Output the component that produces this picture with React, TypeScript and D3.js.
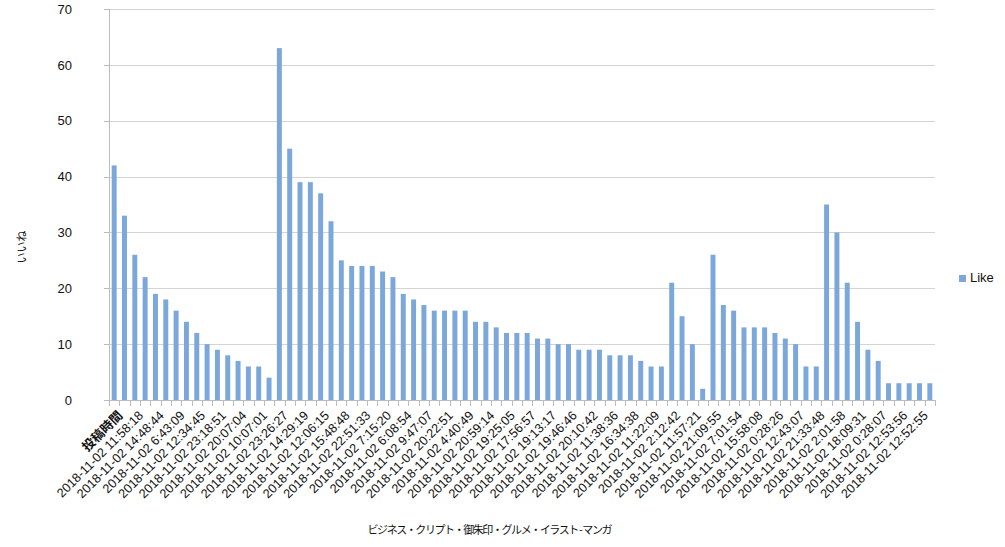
import React from "react";
import * as d3 from "d3";

const likes: number[] = [
  42, 33, 26, 22, 19, 18, 16, 14, 12, 10, 9, 8, 7, 6, 6, 4,
  63, 45, 39, 39, 37, 32, 25, 24, 24, 24, 23, 22, 19, 18, 17, 16, 16, 16, 16, 14, 14, 13,
  12, 12, 12, 11, 11, 10, 10, 9, 9, 9, 8, 8, 8, 7, 6, 6,
  21, 15, 10, 2, 26, 17, 16, 13, 13, 13, 12, 11, 10, 6, 6, 35, 30, 21, 14, 9, 7, 3, 3, 3, 3, 3,
];

// labels shown on every second category
const tickLabels: string[] = [
  "投稿時間",
  "2018-11-02 11:58:18", "2018-11-02 14:48:44", "2018-11-02 6:43:09", "2018-11-02 12:34:45",
  "2018-11-02 23:18:51", "2018-11-02 20:07:04", "2018-11-02 10:07:01", "2018-11-02 23:26:27",
  "2018-11-02 14:29:19", "2018-11-02 12:06:15", "2018-11-02 15:48:48", "2018-11-02 22:51:33",
  "2018-11-02 7:15:20", "2018-11-02 6:08:54", "2018-11-02 9:47:07", "2018-11-02 20:22:51",
  "2018-11-02 4:40:49", "2018-11-02 20:59:14", "2018-11-02 19:25:05", "2018-11-02 17:56:57",
  "2018-11-02 19:13:17", "2018-11-02 19:46:46", "2018-11-02 20:10:42", "2018-11-02 11:38:36",
  "2018-11-02 16:34:38", "2018-11-02 11:22:09", "2018-11-02 2:12:42", "2018-11-02 11:57:21",
  "2018-11-02 21:09:55", "2018-11-02 7:01:54", "2018-11-02 15:58:08", "2018-11-02 0:28:26",
  "2018-11-02 12:43:07", "2018-11-02 21:33:48", "2018-11-02 2:01:58", "2018-11-02 18:09:31",
  "2018-11-02 0:28:07", "2018-11-02 12:53:56", "2018-11-02 12:52:55",
];

const yTicks: number[] = [0, 10, 20, 30, 40, 50, 60, 70];
const seriesName = "Like";
const xTitle = "ビジネス・クリプト・御朱印・グルメ・イラスト - マンガ";
const yTitle = "いいね";

const W = 1005, H = 547;
const L = 109, R = 935, T = 9, B = 400;
const FONT = "'Liberation Sans', Arial, sans-serif";
const JFONT = "'Noto Sans CJK JP', sans-serif";
const BAR = "#7ba7da";

export default function App() {
  const idx = likes.map((_, i) => i);
  const x = d3.scaleBand<number>().domain(idx).range([L, R]).paddingInner(0).paddingOuter(0);
  const y = d3.scaleLinear().domain([0, 70]).range([B, T]);
  const step = x.step();
  const bw = step * 0.48;

  return (
    <svg width={W} height={H} style={{ position: "absolute", left: 0, top: 0, background: "#fff" }}>
      {/* gridlines */}
      {yTicks.map((t) => (
        <line key={"g" + t} x1={L} x2={R} y1={Math.round(y(t)) + 0.5} y2={Math.round(y(t)) + 0.5}
          stroke="#d4d4d4" strokeWidth={1} />
      ))}
      {/* bars */}
      {likes.map((v, i) => (
        <rect key={"b" + i} x={(x(i) as number) + (step - bw) / 2} y={y(v)} width={bw} height={B - y(v)}
          fill={BAR} />
      ))}
      {/* y axis */}
      <line x1={L + 0.5} x2={L + 0.5} y1={T} y2={B} stroke="#bcbcbc" />
      {yTicks.map((t) => (
        <g key={"yt" + t}>
          <line x1={L - 5} x2={L} y1={Math.round(y(t)) + 0.5} y2={Math.round(y(t)) + 0.5} stroke="#bcbcbc" />
          <text x={L - 37} y={y(t)} dy="0.36em" textAnchor="end" fontFamily={FONT} fontSize={13} fill="#111">
            {t}
          </text>
        </g>
      ))}
      {/* x axis */}
      <line x1={L} x2={R} y1={B + 0.5} y2={B + 0.5} stroke="#bcbcbc" />
      {d3.range(likes.length + 1).map((k) => {
        const xx = Math.round(L + k * step) + 0.5;
        return <line key={"xt" + k} x1={xx} x2={xx} y1={B} y2={B + 6} stroke="#bcbcbc" />;
      })}
      {tickLabels.map((lab, j) => {
        const i = j * 2;
        const cx = (x(i) as number) + step / 2;
        const bold = j === 0;
        return (
          <text key={"xl" + j} transform={`translate(${cx + 3},${B + 10}) rotate(-45)`} textAnchor="end"
            dy="0.7em" fontFamily={bold ? JFONT : FONT} fontSize={12.7} fontWeight={bold ? "bold" : "normal"}
            fill="#111">
            {lab}
          </text>
        );
      })}
      {/* axis titles */}
      <text x={490} y={534} textAnchor="middle" fontFamily={JFONT} fontSize={11} fill="#111"
        textLength={245} lengthAdjust="spacing">
        {xTitle}
      </text>
      <text transform={`translate(22,247) rotate(-90)`} textAnchor="middle" dy="0.35em" fontFamily={JFONT}
        fontSize={11} fill="#111">
        {yTitle}
      </text>
      {/* legend */}
      <rect x={959} y={275} width={7} height={7} fill={BAR} />
      <text x={970} y={282} fontFamily={FONT} fontSize={13} fill="#111">{seriesName}</text>
    </svg>
  );
}
